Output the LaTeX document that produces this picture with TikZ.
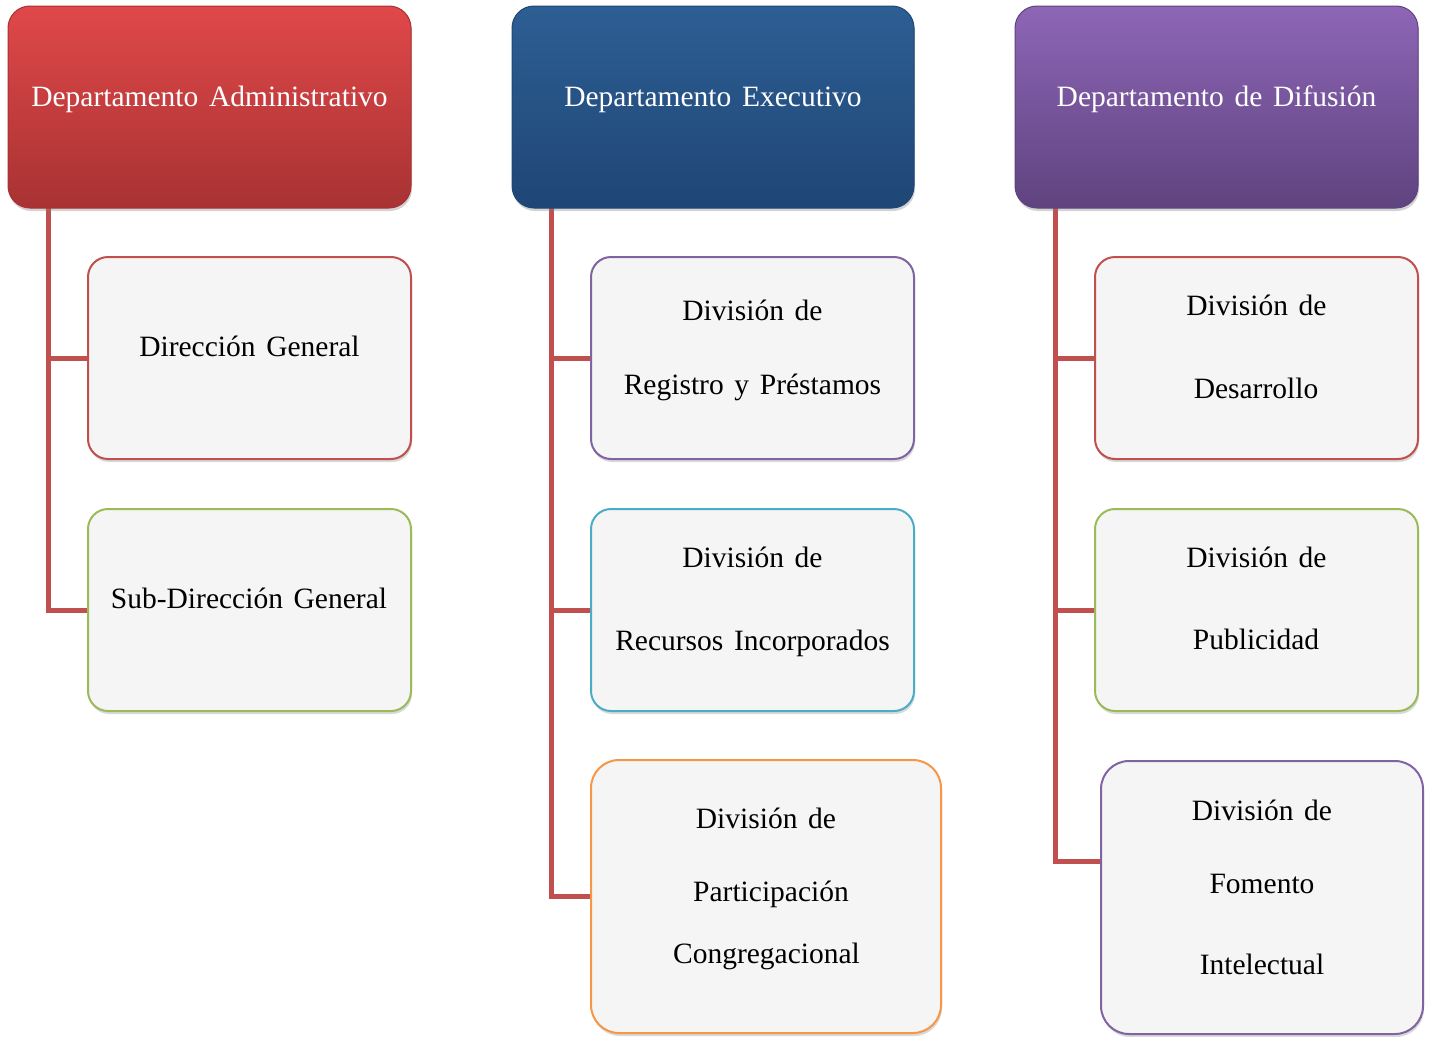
\documentclass[tikz,border=0pt]{standalone}
\usepackage{fontspec}
\setmainfont[WordSpace=1.45]{Liberation Serif}
\usetikzlibrary{shadows,backgrounds}
\definecolor{connred}{HTML}{C0504D}
\definecolor{boxfill}{HTML}{F5F5F5}
\definecolor{bred}{HTML}{C0504D}
\definecolor{bgreen}{HTML}{9BBB59}
\definecolor{bpurple}{HTML}{8064A2}
\definecolor{bcyan}{HTML}{4BACC6}
\definecolor{borange}{HTML}{F79646}
\definecolor{redtop}{HTML}{E0484A}
\definecolor{redmid}{HTML}{D04442}
\definecolor{redbot}{HTML}{A83232}
\definecolor{bluetop}{HTML}{2D5E94}
\definecolor{bluemid}{HTML}{285487}
\definecolor{bluebot}{HTML}{1F4675}
\definecolor{purtop}{HTML}{8D66B6}
\definecolor{purmid}{HTML}{7D5BA6}
\definecolor{purbot}{HTML}{5F437F}
\tikzset{
  topbox/.style={rounded corners=22pt, minimum width=403pt, minimum height=202pt,
    outer sep=0pt, inner sep=0pt, line width=1pt,
    drop shadow={opacity=0.35, shadow xshift=1pt, shadow yshift=-3pt}},
  childbox/.style={draw, rounded corners=20pt, fill=boxfill, line width=2pt,
    minimum width=323pt, minimum height=202pt, outer sep=0pt, inner sep=0pt,
    drop shadow={opacity=0.3, shadow xshift=1pt, shadow yshift=-3pt}},
  bigbox/.style={childbox, rounded corners=28pt, minimum height=273pt},
  conn/.style={draw=connred, line width=5pt},
  txt/.style={anchor=base, inner sep=0pt, font=\fontsize{29.5}{34}\selectfont},
  toptxt/.style={txt, text=white}
}
\begin{document}
\begin{tikzpicture}[x=1pt,y=-1pt]
\useasboundingbox (0,0) rectangle (1429,1036);

% top boxes
\node[topbox, draw=redbot, top color=redtop, middle color=redmid, bottom color=redbot] (adm) at (209.5,107) {};
\node[topbox, draw=bluebot, top color=bluetop, middle color=bluemid, bottom color=bluebot, minimum width=402pt] (exe) at (713,107) {};
\node[topbox, draw=purbot, top color=purtop, middle color=purmid, bottom color=purbot] (dif) at (1216.5,107) {};

% child boxes
\node[childbox, draw=bred] (dg) at (249.5,358) {};
\node[childbox, draw=bgreen] (sdg) at (249.5,610) {};
\node[childbox, draw=bpurple] (rp) at (752.5,358) {};
\node[childbox, draw=bcyan] (ri) at (752.5,610) {};
\node[bigbox, draw=borange, minimum width=350pt] (pc) at (766,896.5) {};
\node[childbox, draw=bred] (de) at (1256.5,358) {};
\node[childbox, draw=bgreen] (pu) at (1256.5,610) {};
\node[bigbox, draw=bpurple, minimum width=322pt] (fi) at (1262,897.5) {};

% connectors
\begin{scope}[on background layer]
\draw[conn] ([xshift=40pt]adm.south west) |- (sdg.west);
\draw[conn] ([xshift=40pt]adm.south west) |- (dg.west);
\draw[conn] ([xshift=39pt]exe.south west) |- (pc.west);
\draw[conn] ([xshift=39pt]exe.south west) |- (ri.west);
\draw[conn] ([xshift=39pt]exe.south west) |- (rp.west);
\draw[conn] ([xshift=40pt]dif.south west) |- ([yshift=36.5pt]fi.west);
\draw[conn] ([xshift=40pt]dif.south west) |- (pu.west);
\draw[conn] ([xshift=40pt]dif.south west) |- (de.west);
\end{scope}

% texts
\node[toptxt] (t1) at (209.5,106) {Departamento Administrativo};
\node[toptxt] (t2) at (713,106) {Departamento Executivo};
\node[toptxt] (t3) at (1216.5,106) {Departamento de Difusión};

\node[txt] (t4) at (249.5,356.5) {Dirección General};
\node[txt] (t5) at (249,608.5) {Sub-Dirección General};

\node[txt] (t6) at (752.5,320.5) {División de};
\node[txt] (t7) at (752.5,394.5) {Registro y Préstamos};
\node[txt] (t8) at (752.5,567.5) {División de};
\node[txt] (t9) at (752.5,650.5) {Recursos Incorporados};
\node[txt] (t10) at (766,828.5) {División de};
\node[txt] (t11) at (771,901.5) {Participación};
\node[txt] (t12) at (766.5,963.5) {Congregacional};

\node[txt] (t13) at (1256.5,315.5) {División de};
\node[txt] (t14) at (1256,398.5) {Desarrollo};
\node[txt] (t15) at (1256.5,567.5) {División de};
\node[txt] (t16) at (1256,649.5) {Publicidad};
\node[txt] (t17) at (1262,820.5) {División de};
\node[txt] (t18) at (1262,893.5) {Fomento};
\node[txt] (t19) at (1262,974.5) {Intelectual};
\end{tikzpicture}
\end{document}
